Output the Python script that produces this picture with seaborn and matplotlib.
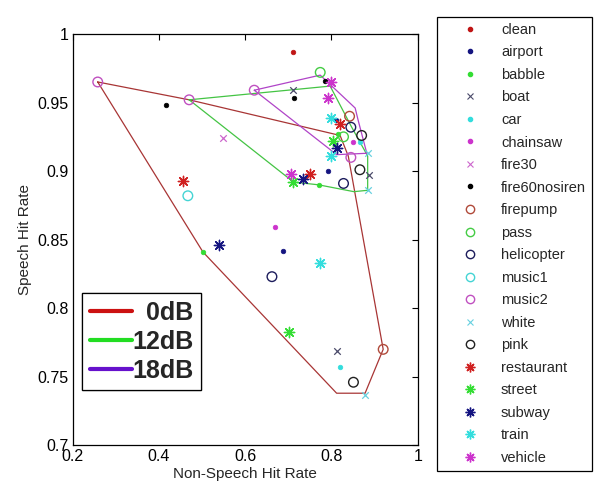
import matplotlib
matplotlib.use("Agg")
import matplotlib.pyplot as plt
import seaborn as sns
import pandas as pd
from matplotlib.lines import Line2D

# ---------------- data ----------------
noise_names = ["clean", "airport", "babble", "boat", "car", "chainsaw", "fire30",
               "fire60nosiren", "firepump", "pass", "helicopter", "music1", "music2",
               "white", "pink", "restaurant", "street", "subway", "train", "vehicle"]

pts_clean = [(0.712, 0.987)]
pts_airport = [(0.791, 0.900), (0.687, 0.842), (0.811, 0.937)]
pts_babble = [(0.502, 0.841), (0.770, 0.890), (0.816, 0.927)]
pts_boat = [(0.812, 0.769), (0.710, 0.959), (0.886, 0.897)]
pts_car = [(0.820, 0.757), (0.866, 0.921)]
pts_chainsaw = [(0.669, 0.859), (0.851, 0.921)]
pts_fire30 = [(0.549, 0.924)]
pts_fire60nosiren = [(0.416, 0.948), (0.713, 0.953), (0.785, 0.966)]
pts_firepump = [(0.920, 0.770), (0.842, 0.940)]
pts_pass = [(0.774, 0.972), (0.828, 0.925)]
pts_helicopter = [(0.662, 0.823), (0.845, 0.932), (0.828, 0.891)]
pts_music1 = [(0.467, 0.882)]
pts_music2 = [(0.258, 0.965), (0.470, 0.952), (0.621, 0.959), (0.845, 0.910)]
pts_white = [(0.878, 0.737), (0.884, 0.913), (0.884, 0.886)]
pts_pink = [(0.851, 0.746), (0.866, 0.901), (0.870, 0.926)]
pts_restaurant = [(0.455, 0.893), (0.750, 0.898), (0.820, 0.934)]
pts_street = [(0.702, 0.783), (0.712, 0.892), (0.804, 0.922)]
pts_subway = [(0.540, 0.846), (0.735, 0.894), (0.812, 0.917)]
pts_train = [(0.774, 0.833), (0.799, 0.939), (0.798, 0.911)]
pts_vehicle = [(0.706, 0.898), (0.793, 0.953), (0.800, 0.965)]

# hull outlines per SNR (closed polygons)
hull0_x = [0.258, 0.470, 0.820, 0.839, 0.920, 0.878, 0.812, 0.502, 0.258]
hull0_y = [0.965, 0.952, 0.926, 0.911, 0.770, 0.738, 0.738, 0.841, 0.965]
hull12_x = [0.470, 0.797, 0.847, 0.884, 0.884, 0.852, 0.770, 0.712, 0.470]
hull12_y = [0.952, 0.962, 0.932, 0.911, 0.886, 0.885, 0.890, 0.892, 0.952]
hull18_x = [0.621, 0.774, 0.855, 0.862, 0.882, 0.812, 0.621]
hull18_y = [0.959, 0.970, 0.946, 0.937, 0.913, 0.912, 0.959]

snr_labels = ["  0dB", "12dB", "18dB"]

x_ticks = [0.2, 0.4, 0.6, 0.8, 1.0]
x_ticklabels = ["0.2", "0.4", "0.6", "0.8", "1"]
y_ticks = [0.7, 0.75, 0.8, 0.85, 0.9, 0.95, 1.0]
y_ticklabels = ["0.7", "0.75", "0.8", "0.85", "0.9", "0.95", "1"]

# ---------------- styles ----------------
RED, GREEN, NAVY, CYAN, MAG = "#d02020", "#33dd33", "#141480", "#33dddd", "#cc33cc"
styles = {
    "clean": ("dot", "#c01515"),
    "airport": ("dot", NAVY),
    "babble": ("dot", GREEN),
    "boat": ("x", "#4a4a6a"),
    "car": ("dot", CYAN),
    "chainsaw": ("dot", MAG),
    "fire30": ("x", "#cc66cc"),
    "fire60nosiren": ("dot", "black"),
    "firepump": ("circ", "#b04a3a"),
    "pass": ("circ", "#44cc44"),
    "helicopter": ("circ", "#1c1c5c"),
    "music1": ("circ", "#44d4d4"),
    "music2": ("circ", "#c050c0"),
    "white": ("x", "#66d0e0"),
    "pink": ("circ", "#202020"),
    "restaurant": ("star", RED),
    "street": ("star", GREEN),
    "subway": ("star", NAVY),
    "train": ("star", CYAN),
    "vehicle": ("star", MAG),
}
STAR = (8, 2, 0)

sns.set_style("white")
plt.rcParams["font.family"] = ["Liberation Sans", "DejaVu Sans"]

fig = plt.figure(figsize=(5.95, 4.87), dpi=100)
ax = fig.add_axes([0.1222, 0.0856, 0.5798, 0.8446])

# hull lines
for hx, hy, col in [(hull0_x, hull0_y, "#a83535"), (hull12_x, hull12_y, "#44c444"),
                    (hull18_x, hull18_y, "#b044c8")]:
    sns.lineplot(x=hx, y=hy, sort=False, estimator=None, color=col, lw=0.9, ax=ax,
                 legend=False, zorder=2)

handles = []
for name in noise_names:
    pts = globals()["pts_" + name]
    df = pd.DataFrame(pts, columns=["x", "y"])
    kind, col = styles[name]
    if kind == "dot":
        sns.scatterplot(data=df, x="x", y="y", marker="o", s=11, color=col,
                        edgecolor=col, linewidth=0.5, ax=ax, legend=False, zorder=3)
        h = Line2D([], [], ls="none", marker="o", ms=3, color=col)
    elif kind == "x":
        sns.scatterplot(data=df, x="x", y="y", marker="x", s=22, color=col,
                        linewidth=0.9, ax=ax, legend=False, zorder=3)
        h = Line2D([], [], ls="none", marker="x", ms=5, mew=0.8, color=col)
    elif kind == "circ":
        sns.scatterplot(data=df, x="x", y="y", marker="o", s=48, color=col,
                        facecolor="none", edgecolor=col, linewidth=1.0, ax=ax,
                        legend=False, zorder=3)
        h = Line2D([], [], ls="none", marker="o", ms=6, mfc="none", mew=1.0, color=col)
    else:
        sns.scatterplot(data=df, x="x", y="y", marker=STAR, s=55, color=col,
                        linewidth=1.0, ax=ax, legend=False, zorder=3)
        h = Line2D([], [], ls="none", marker=STAR, ms=7, mew=1.0, color=col)
    handles.append(h)

ax.set_xlim(0.2, 1.0)
ax.set_ylim(0.7, 1.0)
ax.set_xticks(x_ticks)
ax.set_xticklabels(x_ticklabels)
ax.set_yticks(y_ticks)
ax.set_yticklabels(y_ticklabels)
ax.tick_params(direction="in", length=4, width=0.8, top=True, right=True,
               labelsize=11.5, colors="black", pad=3)
ax.set_xlabel("Non-Speech Hit Rate", fontsize=11, labelpad=2)
ax.set_ylabel("Speech Hit Rate", fontsize=11, labelpad=4)
for sp in ax.spines.values():
    sp.set_color("black")
    sp.set_linewidth(0.9)

# SNR legend
snr_handles = [Line2D([], [], color=c, lw=3) for c in ["#cc1111", "#22dd22", "#6611cc"]]
leg1 = ax.legend(snr_handles, snr_labels, loc="lower left", bbox_to_anchor=(0.027, 0.134),
                 borderaxespad=0, prop={"weight": "bold", "size": 18}, handlelength=1.7,
                 handletextpad=0.0, labelspacing=0.2, borderpad=0.3, frameon=True,
                 fancybox=False, edgecolor="black", framealpha=1)
leg1.get_frame().set_linewidth(0.9)
ax.add_artist(leg1)

# noise legend
leg2 = fig.legend(handles, noise_names, loc="upper left", bbox_to_anchor=(0.734, 0.965),
                  borderaxespad=0, fontsize=10.5, handlelength=3.8, handletextpad=0.2,
                  labelspacing=0.585, borderpad=0.4, frameon=True, fancybox=False,
                  edgecolor="black", framealpha=1)
leg2.get_frame().set_linewidth(0.9)

fig.savefig("out.png", dpi=100)
